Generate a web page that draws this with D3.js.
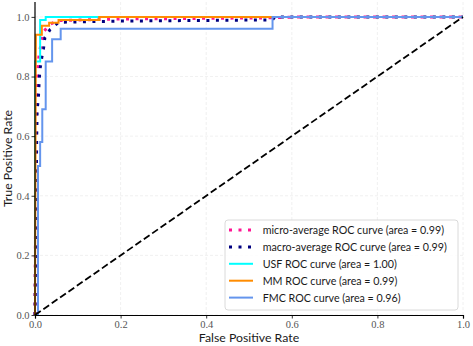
<!DOCTYPE html>
<html>
<head>
<meta charset="utf-8">
<script src="https://cdn.jsdelivr.net/npm/d3@7"></script>
<style>
    body { margin: 0; background: #fff; }
    .lbl { font-family: "Lato", "Liberation Sans", sans-serif; fill: #1a1a1a; }
</style>
</head>
<body>
<svg id="chart" width="473" height="346"></svg>
<script>
// ROC curves
const microFpr = [0, 0.002, 0.004, 0.006, 0.01, 0.016, 0.02, 0.035, 0.055, 0.2, 0.555, 0.62, 1];
const microTpr = [0, 0.5, 0.75, 0.82, 0.88, 0.92, 0.95, 0.975, 0.988, 0.993, 0.997, 1, 1];

const macroFpr = [0, 0.002, 0.004, 0.005, 0.008, 0.01, 0.012, 0.016, 0.02, 0.023, 0.035, 0.055, 0.2, 0.555, 0.56, 1];
const macroTpr = [0, 0.3, 0.6, 0.687, 0.731, 0.793, 0.827, 0.865, 0.895, 0.93, 0.957, 0.982, 0.986, 0.99, 1, 1];

const usfFpr = [0, 0, 0.012, 0.012, 0.025, 0.025, 1];
const usfTpr = [0, 0.85, 0.85, 0.99, 0.99, 1, 1];

const mmFpr = [0, 0.002, 0.016, 0.016, 0.033, 0.033, 0.055, 0.055, 0.15, 0.15, 1];
const mmTpr = [0, 0.94, 0.94, 0.97, 0.97, 0.98, 0.98, 0.99, 0.99, 1, 1];

const fmcFpr = [0, 0.007, 0.007, 0.012, 0.012, 0.017, 0.017, 0.025, 0.025, 0.04, 0.04, 0.06, 0.06, 0.555, 0.555, 1];
const fmcTpr = [0, 0, 0.5, 0.5, 0.58, 0.58, 0.69, 0.69, 0.85, 0.85, 0.925, 0.925, 0.96, 0.96, 1, 1];

const tickVals = [0, 0.2, 0.4, 0.6, 0.8, 1.0];

const series = [
    { name: "micro-average ROC curve (area = 0.99)", fpr: microFpr, tpr: microTpr, color: "#ff1493", dotted: true },
    { name: "macro-average ROC curve (area = 0.99)", fpr: macroFpr, tpr: macroTpr, color: "#000080", dotted: true },
    { name: "USF ROC curve (area = 1.00)", fpr: usfFpr, tpr: usfTpr, color: "#00ffff", dotted: false },
    { name: "MM ROC curve (area = 0.99)", fpr: mmFpr, tpr: mmTpr, color: "#ff8c00", dotted: false },
    { name: "FMC ROC curve (area = 0.96)", fpr: fmcFpr, tpr: fmcTpr, color: "#6495ed", dotted: false }
];

const margin = { top: 2, right: 10, bottom: 31, left: 35 };
const W = 473, H = 346;
const svg = d3.select("#chart");

const x = d3.scaleLinear().domain([0, 1]).range([margin.left, W - margin.right]);
const y = d3.scaleLinear().domain([0, 1.05]).range([H - margin.bottom, margin.top]);

// grid
svg.append("g").selectAll("line").data(tickVals).join("line")
    .attr("x1", d => x(d)).attr("x2", d => x(d))
    .attr("y1", y(0)).attr("y2", y(1.05))
    .attr("stroke", "#ececec").attr("stroke-width", 0.8).attr("stroke-dasharray", "3,2");
svg.append("g").selectAll("line").data(tickVals).join("line")
    .attr("x1", x(0)).attr("x2", x(1))
    .attr("y1", d => y(d)).attr("y2", d => y(d))
    .attr("stroke", "#ececec").attr("stroke-width", 0.8).attr("stroke-dasharray", "3,2");

const line = d3.line().x(d => x(d[0])).y(d => y(d[1]));

series.forEach(s => {
    const pts = s.fpr.map((f, i) => [f, s.tpr[i]]);
    const p = svg.append("path")
        .attr("d", line(pts))
        .attr("fill", "none")
        .attr("stroke", s.color);
    if (s.dotted) {
        p.attr("stroke-width", 3).attr("stroke-dasharray", "3,6.5");
    } else {
        p.attr("stroke-width", 2);
    }
});

// chance line
svg.append("path")
    .attr("d", line([[0, 0], [1, 1]]))
    .attr("fill", "none")
    .attr("stroke", "#000")
    .attr("stroke-width", 1.8)
    .attr("stroke-dasharray", "7,3.2");

// axes
const fmt = d3.format(".1f");
const xAxis = svg.append("g")
    .attr("transform", `translate(0,${y(0)})`)
    .call(d3.axisBottom(x).tickValues(tickVals).tickFormat(fmt).tickSize(3.5).tickPadding(2));
const yAxis = svg.append("g")
    .attr("transform", `translate(${x(0)},0)`)
    .call(d3.axisLeft(y).tickValues(tickVals).tickFormat(fmt).tickSize(3.5).tickPadding(2));
[xAxis, yAxis].forEach(a => {
    a.attr("font-family", "'Liberation Serif', 'DejaVu Serif', serif");
    a.select(".domain").attr("stroke", "#000").attr("stroke-width", 1.2);
    a.selectAll(".tick line").attr("stroke", "#000").attr("stroke-width", 0.8);
    a.selectAll(".tick text").attr("font-size", 10.5).attr("fill", "#555");
});
yAxis.select(".domain").attr("d", `M0,${y(1.05)}V${y(0)}`);

svg.append("text").attr("class", "lbl")
    .attr("x", (x(0) + x(1)) / 2).attr("y", 342)
    .attr("text-anchor", "middle").attr("font-size", 12.3)
    .text("False Positive Rate");
svg.append("text").attr("class", "lbl")
    .attr("transform", `translate(12,${(y(0) + y(1.05)) / 2}) rotate(-90)`)
    .attr("text-anchor", "middle").attr("font-size", 12.3)
    .text("True Positive Rate");

// legend
const lg = svg.append("g").attr("transform", "translate(225,220)");
lg.append("rect")
    .attr("width", 233).attr("height", 90).attr("rx", 3)
    .attr("fill", "#fff").attr("fill-opacity", 0.85)
    .attr("stroke", "#d0d0d0").attr("stroke-width", 0.8);
series.forEach((s, i) => {
    const cy = 10 + i * 16.9;
    const h = lg.append("line")
        .attr("x1", 4).attr("x2", 28).attr("y1", cy).attr("y2", cy)
        .attr("stroke", s.color);
    if (s.dotted) h.attr("stroke-width", 3).attr("stroke-dasharray", "3,6.5");
    else h.attr("stroke-width", 2);
    lg.append("text").attr("class", "lbl")
        .attr("x", 37.7).attr("y", cy + 4)
        .attr("font-size", 10.7)
        .text(s.name);
});
</script>
</body>
</html>
